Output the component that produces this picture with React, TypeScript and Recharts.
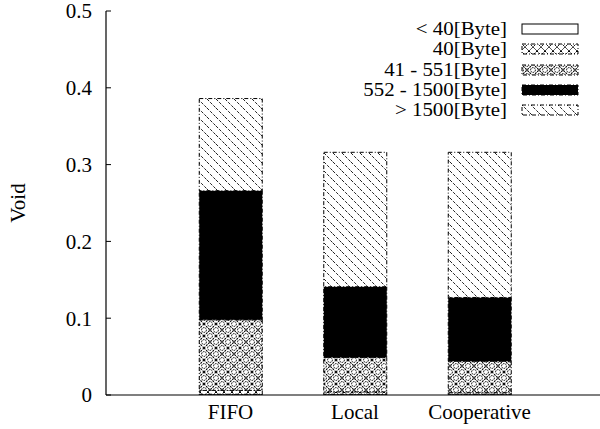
import React from "react";
import { ComposedChart, Bar, XAxis, YAxis } from "recharts";

const categories = ["FIFO", "Local", "Cooperative"];
const positions = [0, 1, 2];
const under40 = [0.001, 0.001, 0.001];
const byte40 = [0.005, 0.003, 0.002];
const byte41to551 = [0.092, 0.045, 0.041];
const byte552to1500 = [0.168, 0.092, 0.083];
const over1500 = [0.12, 0.175, 0.189];
const yTicks = [0, 0.1, 0.2, 0.3, 0.4, 0.5];

const seriesNames = ["< 40[Byte]", "40[Byte]", "41 - 551[Byte]", "552 - 1500[Byte]", "> 1500[Byte]"];
const seriesKeys = ["s0", "s1", "s2", "s3", "s4"];
const seriesFills = ["url(#pEmpty)", "url(#pCross)", "url(#pDiamond)", "#000", "url(#pHatch)"];

const data = positions.map((p, i) => ({
  x: p,
  s0: under40[i],
  s1: byte40[i],
  s2: byte41to551[i],
  s3: byte552to1500[i],
  s4: over1500[i],
}));

const FONT = "'Liberation Serif', 'Times New Roman', serif";
const FS = 21;
const dash = "4 2 1 2";

const LeftTick = (props: any) => {
  const { x, y, payload } = props;
  const v = payload.value;
  return (
    <g>
      <line x1={x + 14} x2={x + 19} y1={y} y2={y} stroke="#000" />
      <text x={x} y={y} dy="0.35em" textAnchor="end" fontFamily={FONT} fontSize={FS} fill="#000">
        {v === 0 ? "0" : v.toFixed(1)}
      </text>
    </g>
  );
};

const RightTick = (props: any) => {
  const { x, y } = props;
  return <line x1={x - 5} x2={x} y1={y} y2={y} stroke="#000" />;
};

const TopTick = (props: any) => {
  const { x, y } = props;
  return <line x1={x} x2={x} y1={y} y2={y + 5} stroke="#000" />;
};

const BottomTick = (props: any) => {
  const { x, y, payload } = props;
  return (
    <text x={x} y={y} dy="0.71em" textAnchor="middle" fontFamily={FONT} fontSize={FS} fill="#000">
      {categories[payload.value]}
    </text>
  );
};

const VoidLabel = (props: any) => {
  const { viewBox } = props;
  const cx = viewBox.x - 28;
  const cy = viewBox.y + viewBox.height / 2;
  return (
    <text
      x={cx}
      y={cy}
      transform={`rotate(-90 ${cx} ${cy})`}
      textAnchor="middle"
      dominantBaseline="central"
      fontFamily={FONT}
      fontSize={FS}
      fill="#000"
    >
      Void
    </text>
  );
};

export default function App() {
  return (
    <div
      style={{
        position: "absolute",
        left: 0,
        top: 0,
        width: 600,
        height: 429,
        overflow: "hidden",
        background: "#fff",
      }}
    >
      <ComposedChart width={610} height={429} data={data} margin={{ top: 11, right: 6, left: 46, bottom: 0 }}>
        <defs>
          <pattern id="pEmpty" width="8" height="8" patternUnits="userSpaceOnUse">
            <rect width="8" height="8" fill="#fff" />
          </pattern>
          <pattern id="pCross" width="8" height="8" patternUnits="userSpaceOnUse">
            <rect width="8" height="8" fill="#fff" />
            <path d="M0,0 L8,8 M8,0 L0,8" stroke="#000" strokeWidth="1" strokeDasharray="2 1" />
          </pattern>
          <pattern id="pDiamond" width="12" height="12" patternUnits="userSpaceOnUse">
            <rect width="12" height="12" fill="#fff" />
            <path d="M0,0 L12,12 M12,0 L0,12" stroke="#000" strokeWidth="1.1" strokeDasharray="2 1" />
            <circle cx="6" cy="0" r="2.4" fill="none" stroke="#000" strokeWidth="1" strokeDasharray="1.5 0.8" />
            <circle cx="6" cy="12" r="2.4" fill="none" stroke="#000" strokeWidth="1" strokeDasharray="1.5 0.8" />
            <circle cx="0" cy="6" r="2.4" fill="none" stroke="#000" strokeWidth="1" strokeDasharray="1.5 0.8" />
            <circle cx="12" cy="6" r="2.4" fill="none" stroke="#000" strokeWidth="1" strokeDasharray="1.5 0.8" />
          </pattern>
          <pattern id="pHatch" width="9" height="9" patternUnits="userSpaceOnUse">
            <rect width="9" height="9" fill="#fff" />
            <path d="M0,0 L9,9 M-2,7 L2,11 M7,-2 L11,2" stroke="#222" strokeWidth="1" strokeDasharray="3 1.5" />
          </pattern>
        </defs>
        <XAxis
          xAxisId="b"
          dataKey="x"
          type="number"
          domain={[-1, 3]}
          ticks={positions}
          allowDataOverflow
          height={34}
          tickSize={0}
          tickMargin={9}
          tickLine={false}
          axisLine={{ stroke: "#000", strokeWidth: 1.2 }}
          tick={<BottomTick />}
        />
        <XAxis
          xAxisId="t"
          orientation="top"
          type="number"
          domain={[-1, 3]}
          ticks={positions}
          allowDataOverflow
          height={0}
          tickSize={0}
          tickMargin={0}
          tickLine={false}
          axisLine={{ stroke: "#000", strokeWidth: 1.2 }}
          tick={<TopTick />}
        />
        <YAxis
          yAxisId="l"
          type="number"
          domain={[0, 0.5]}
          ticks={yTicks}
          allowDataOverflow
          width={60}
          tickSize={0}
          tickMargin={14}
          tickLine={false}
          axisLine={{ stroke: "#000", strokeWidth: 1.2 }}
          tick={<LeftTick />}
          label={<VoidLabel />}
        />
        <YAxis
          yAxisId="r"
          orientation="right"
          type="number"
          domain={[0, 0.5]}
          ticks={yTicks}
          allowDataOverflow
          width={0}
          tickSize={0}
          tickMargin={0}
          tickLine={false}
          axisLine={{ stroke: "#000", strokeWidth: 1.2 }}
          tick={<RightTick />}
        />
        {seriesKeys.map((k, i) => (
          <Bar
            key={k}
            xAxisId="b"
            yAxisId="l"
            dataKey={k}
            stackId="a"
            barSize={63}
            fill={seriesFills[i]}
            stroke="#000"
            strokeWidth={1}
            strokeDasharray={i === 0 ? undefined : dash}
            isAnimationActive={false}
          />
        ))}
      </ComposedChart>
      <div style={{ position: "absolute", left: 290, top: 19, width: 300, fontFamily: FONT, fontSize: 19.5 }}>
        {seriesNames.map((name, i) => (
          <div key={name} style={{ display: "flex", alignItems: "center", height: 20.3 }}>
            <div
              style={{
                width: 217,
                textAlign: "right",
                whiteSpace: "nowrap",
                lineHeight: "18px",
                transform: "scaleX(1.07)",
                transformOrigin: "right center",
              }}
            >
              {name}
            </div>
            <svg width={60} height={12} style={{ marginLeft: 14 }}>
              <rect
                x={1}
                y={1}
                width={56}
                height={10}
                fill={seriesFills[i]}
                stroke="#000"
                strokeWidth={1}
                strokeDasharray={i === 0 ? undefined : dash}
              />
            </svg>
          </div>
        ))}
      </div>
    </div>
  );
}
